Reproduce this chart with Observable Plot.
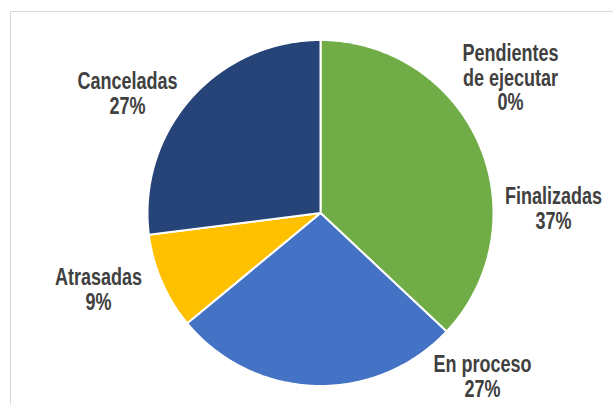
<!DOCTYPE html>
<html>
<head>
<meta charset="utf-8">
<script src="https://cdn.jsdelivr.net/npm/d3@7"></script>
<script src="https://cdn.jsdelivr.net/npm/@observablehq/plot@0.6"></script>
<style>
  html, body { margin: 0; padding: 0; background: #fff; }
  #wrap { position: relative; width: 613px; height: 405px; overflow: hidden; }
  #border { position: absolute; left: 10px; top: 11px; width: 700px; height: 500px;
            border-left: 1px solid #d9d9d9; border-top: 1px solid #d9d9d9; box-sizing: border-box; }
  #chart { position: absolute; left: 0; top: 0; }
</style>
</head>
<body>
<div id="wrap"><div id="border"></div><div id="chart"></div></div>
<script>
// ---- data ----
const categories = ["Finalizadas", "En proceso", "Atrasadas", "Canceladas", "Pendientes de ejecutar"];
const values = [37, 27, 9, 27, 0];
const pctLabels = ["37%", "27%", "9%", "27%", "0%"];
const labelText = ["Finalizadas", "En proceso", "Atrasadas", "Canceladas", "Pendientes\nde ejecutar"];
const colors = ["#70AD47", "#4472C4", "#FFC000", "#264478", "#A5A5A5"];

// ---- layout (label block centres, in pixels, converted to pie-radius units) ----
const cx = 320, cy = 212.5, R = 173;
const labelPx = [[553, 208], [482, 375.5], [98, 288.5], [127, 92.5], [510, 77]];
const labelPos = labelPx.map(([px, py]) => [(px - cx) / R, (cy - py) / R]);
const stretchY = 1.28;

// ---- build slices ----
const pie = d3.pie().sort(null).value(d => d.value).startAngle(0).endAngle(2 * Math.PI);
const arcs = pie(categories.map((c, i) => ({category: c, value: values[i]})));
const pts = [];
arcs.forEach((a) => {
  if (a.endAngle - a.startAngle <= 0) return;
  const id = a.data.category;
  pts.push({id, x: 0, y: 0});
  const n = Math.max(2, Math.ceil((a.endAngle - a.startAngle) / (Math.PI / 360)));
  for (let k = 0; k <= n; k++) {
    const t = a.startAngle + (a.endAngle - a.startAngle) * k / n;
    pts.push({id, x: Math.sin(t), y: Math.cos(t)});
  }
  pts.push({id, x: 0, y: 0});
});

const labels = categories.map((c, i) => ({
  category: c,
  text: labelText[i] + "\n" + pctLabels[i],
  x: labelPos[i][0],
  y: labelPos[i][1]
}));

const chart = Plot.plot({
  width: 613,
  height: 405,
  margin: 0,
  style: {background: "transparent", overflow: "visible"},
  x: {domain: [-1, 1], range: [cx - R, cx + R], axis: null},
  y: {domain: [-1, 1], range: [cy + R, cy - R], axis: null},
  color: {domain: categories, range: colors},
  marks: [
    Plot.line(pts, {x: "x", y: "y", z: "id", fill: "id", stroke: "white", strokeWidth: 2, strokeLinejoin: "round", curve: "linear"}),
    Plot.text(labels, {x: "x", y: "y", text: "text", lineAnchor: "middle", textAnchor: "middle",
      lineHeight: 25 / (18 * stretchY), fontSize: 18, fontWeight: "bold", fill: "#404040",
      fontFamily: "'Liberation Sans', Arial, sans-serif",
      render(index, scales, values, dims, context, next) {
        const g = next(index, scales, values, dims, context);
        d3.select(g).selectAll("text").each(function () {
          const t = this.getAttribute("transform") || "";
          this.setAttribute("transform", t + ` scale(1,${stretchY})`);
        });
        return g;
      }})
  ]
});
document.getElementById("chart").appendChild(chart);
</script>
</body>
</html>
